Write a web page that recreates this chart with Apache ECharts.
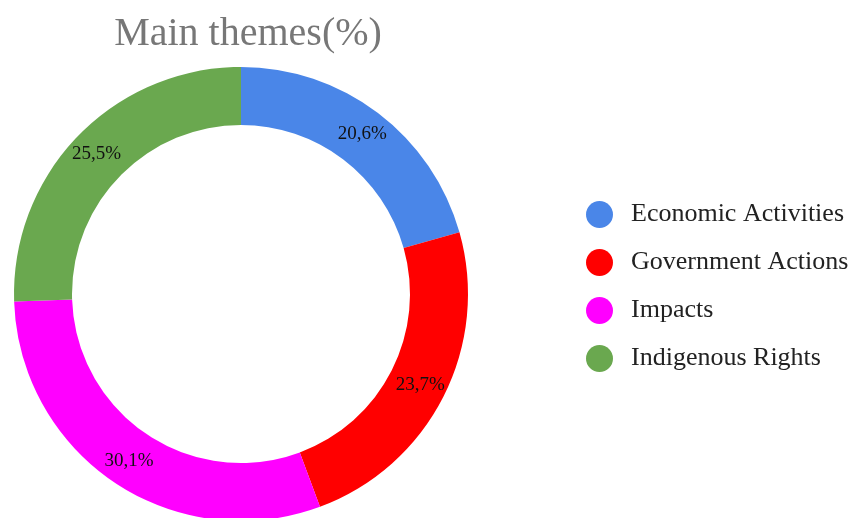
<!DOCTYPE html>
<html>
<head>
<meta charset="utf-8">
<script src="https://cdn.jsdelivr.net/npm/echarts@6/dist/echarts.min.js"></script>
<style>
  html, body { margin: 0; padding: 0; background: #fff; }
  #chart { width: 853px; height: 518px; }
</style>
</head>
<body>
<div id="chart"></div>
<script>
const themes = ['Economic Activities', 'Government Actions', 'Impacts', 'Indigenous Rights']
const shares = [20.6, 23.7, 30.1, 25.5]
const colors = ['#4a86e8', '#ff0000', '#ff00ff', '#6aa84f']

const serif = '"Liberation Serif", "DejaVu Serif", serif'
const chart = echarts.init(document.getElementById('chart'))

chart.setOption({
  backgroundColor: '#fff',
  title: {
    text: 'Main themes(%)',
    left: 243,
    top: 9,
    textAlign: 'center',
    textStyle: { fontFamily: serif, fontSize: 40, fontWeight: 'normal', color: '#777' }
  },
  legend: {
    orient: 'vertical',
    left: 581,
    top: 196,
    icon: 'circle',
    itemWidth: 27,
    itemHeight: 27,
    itemGap: 21,
    data: themes,
    textStyle: { fontFamily: serif, fontSize: 26, color: '#222', padding: [0, 0, 0, 13] }
  },
  series: [
    {
      type: 'pie',
      center: [241, 294],
      radius: [169, 227],
      startAngle: 90,
      clockwise: true,
      silent: true,
      label: {
        position: 'inside',
        fontFamily: serif,
        fontSize: 19,
        color: '#111',
        formatter: (p) => p.value.toFixed(1).replace('.', ',') + '%'
      },
      labelLine: { show: false },
      itemStyle: { borderWidth: 0 },
      data: themes.map((name, i) => ({ name, value: shares[i], itemStyle: { color: colors[i] } }))
    }
  ]
})
</script>
</body>
</html>
